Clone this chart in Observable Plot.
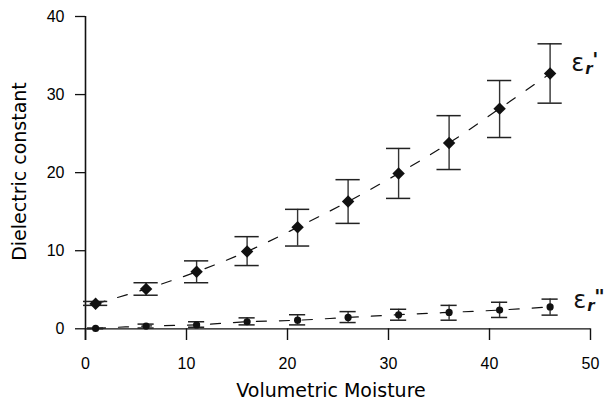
<!DOCTYPE html>
<html><head><meta charset="utf-8">
<script src="https://cdn.jsdelivr.net/npm/d3@7"></script>
<script src="https://cdn.jsdelivr.net/npm/@observablehq/plot@0.6"></script>
<style>body{margin:0;background:#fff}</style>
</head><body><div id="chart"></div>
<script>
const moisture = [1, 6, 11, 16, 21, 26, 31, 36, 41, 46];
const realPart = [3.2, 5.1, 7.3, 9.9, 13.0, 16.3, 19.9, 23.8, 28.2, 32.7];
const realLow  = [3.0, 4.3, 5.9, 8.1, 10.6, 13.5, 16.7, 20.4, 24.5, 28.9];
const realHigh = [3.5, 5.9, 8.7, 11.8, 15.3, 19.1, 23.1, 27.3, 31.8, 36.5];
const imagPart = [0.05, 0.35, 0.5, 0.9, 1.1, 1.45, 1.8, 2.1, 2.4, 2.8];
const imagLow  = [0.0, 0.1, 0.2, 0.5, 0.5, 0.8, 1.1, 1.1, 1.45, 1.75];
const imagHigh = [0.1, 0.6, 0.9, 1.4, 1.8, 2.2, 2.5, 3.0, 3.4, 3.8];
const xTicks = [0, 10, 20, 30, 40, 50];
const yTicks = [0, 10, 20, 30, 40];
const seriesLabels = [{name: "ε", sub: "r", mark: "'", x: 48.1, y: 34.0}, {name: "ε", sub: "r", mark: "\"", x: 48.3, y: 3.6}];

const real = moisture.map((m, i) => ({x: m, y: realPart[i], lo: realLow[i], hi: realHigh[i]}));
const imag = moisture.map((m, i) => ({x: m, y: imagPart[i], lo: imagLow[i], hi: imagHigh[i]}));
const ink = "#111";
const titleFont = "'Comic Sans MS', 'DejaVu Sans', sans-serif";
const labelFont = "'DejaVu Sans', sans-serif";

const chart = Plot.plot({
  width: 606, height: 403,
  marginLeft: 85, marginRight: 16, marginTop: 16, marginBottom: 63,
  style: {fontFamily: "'Liberation Sans', Arial, sans-serif", fontSize: "16px", color: ink, background: "#fff"},
  x: {domain: [0, 50], axis: null},
  y: {domain: [-1.5, 40], axis: null},
  marks: [
    Plot.axisY(yTicks, {tickSize: 10, tickPadding: 11, stroke: ink, strokeWidth: 1.3, fontSize: 16, fill: "#000", label: null}),
    Plot.axisX(xTicks, {tickSize: 0, tickPadding: 17, fontSize: 16, fill: "#000", label: null}),
    Plot.ruleX([0], {stroke: ink, strokeWidth: 1.6}),
    Plot.ruleY([0], {stroke: ink, strokeWidth: 1.3}),
    Plot.ruleX(xTicks, {y1: 0, y2: -1.5, stroke: ink, strokeWidth: 1.4}),
    // fitted dashed curves
    Plot.line(real, {x: "x", y: "y", curve: "catmull-rom", stroke: ink, strokeWidth: 1.2, strokeDasharray: "10,13"}),
    Plot.line(imag, {x: "x", y: "y", curve: "catmull-rom", stroke: ink, strokeWidth: 1.2, strokeDasharray: "10,13"}),
    // error bars
    Plot.ruleX(real, {x: "x", y1: "lo", y2: "hi", stroke: "#333", strokeWidth: 1.4}),
    Plot.ruleY(real, {y: "lo", x1: d => d.x - 1.2, x2: d => d.x + 1.2, stroke: "#222", strokeWidth: 1.5}),
    Plot.ruleY(real, {y: "hi", x1: d => d.x - 1.2, x2: d => d.x + 1.2, stroke: "#222", strokeWidth: 1.5}),
    Plot.ruleX(imag, {x: "x", y1: "lo", y2: "hi", stroke: "#333", strokeWidth: 1.4}),
    Plot.ruleY(imag, {y: "lo", x1: d => d.x - 0.8, x2: d => d.x + 0.8, stroke: "#222", strokeWidth: 1.5}),
    Plot.ruleY(imag, {y: "hi", x1: d => d.x - 0.8, x2: d => d.x + 0.8, stroke: "#222", strokeWidth: 1.5}),
    // points
    Plot.dot(real, {x: "x", y: "y", symbol: "diamond2", r: 5.6, fill: ink, stroke: "none"}),
    Plot.dot(imag, {x: "x", y: "y", symbol: "circle", r: 3.6, fill: ink, stroke: "none"}),
    // series labels
    Plot.text(seriesLabels, {x: "x", y: "y", text: "name", textAnchor: "start", fontSize: 24, fill: ink, fontFamily: labelFont}),
    Plot.text(seriesLabels, {x: "x", y: "y", text: "sub", textAnchor: "start", dx: 14, dy: 6, fontSize: 15, fontStyle: "italic", fontWeight: "bold", fill: ink, fontFamily: labelFont}),
    Plot.text(seriesLabels, {x: "x", y: "y", text: "mark", textAnchor: "start", dx: 21, dy: -4, fontSize: 20, fontStyle: "italic", fontWeight: "bold", fill: ink, fontFamily: labelFont}),
    // axis titles
    Plot.text(["Volumetric Moisture"], {frameAnchor: "bottom", textAnchor: "middle", lineAnchor: "middle", dx: -7, dy: 50, fontSize: 19, fill: "#000", fontFamily: titleFont}),
    Plot.text(["Dielectric constant"], {frameAnchor: "left", textAnchor: "middle", lineAnchor: "middle", rotate: -90, dx: -66, dy: -7, fontSize: 19, fill: "#000", fontFamily: titleFont})
  ]
});
document.getElementById("chart").appendChild(chart);
</script>
</body></html>
